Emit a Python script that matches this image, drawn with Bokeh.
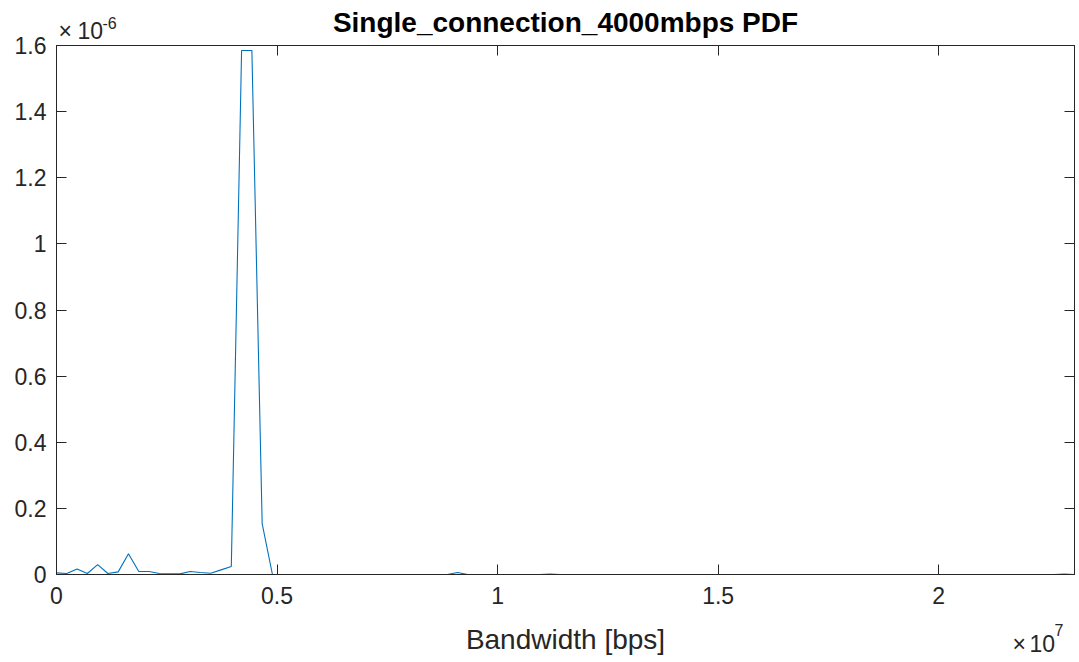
import numpy as np
from bokeh.plotting import figure
from bokeh.models import (LinearAxis, FixedTicker, CustomJSTickFormatter,
                          Range1d, ColumnDataSource)
from bokeh.core.properties import value
from bokeh.embed import file_html
from bokeh.resources import INLINE

# Histogram-based PDF estimate of measured bandwidth (100 bins)
X_MAX = 2.308e7          # bps, upper edge of the bin grid
N_BINS = 100
Y_SCALE = 1e-6           # PDF values below are in units of 1e-6

pdf_e6 = [
    0.005, 0.003, 0.017, 0.003, 0.030, 0.003, 0.008, 0.063, 0.009, 0.009,
    0.003, 0.002, 0.002, 0.009, 0.006, 0.004, 0.014, 0.024, 1.585, 1.585,
    0.154, 0.000, 0.000, 0.000, 0.000, 0.000, 0.000, 0.000, 0.000, 0.000,
    0.000, 0.000, 0.000, 0.000, 0.000, 0.000, 0.000, 0.000, 0.000, 0.006,
    0.000, 0.000, 0.000, 0.000, 0.000, 0.000, 0.000, 0.000, 0.001, 0.000,
    0.000, 0.000, 0.000, 0.000, 0.000, 0.000, 0.000, 0.000, 0.000, 0.000,
    0.000, 0.000, 0.000, 0.000, 0.000, 0.000, 0.000, 0.000, 0.000, 0.000,
    0.000, 0.000, 0.000, 0.000, 0.000, 0.000, 0.000, 0.000, 0.000, 0.000,
    0.000, 0.000, 0.000, 0.000, 0.000, 0.000, 0.000, 0.000, 0.000, 0.000,
    0.000, 0.000, 0.000, 0.000, 0.000, 0.000, 0.000, 0.000, 0.001, 0.000,
]

x_ticks = [0, 0.5e7, 1.0e7, 1.5e7, 2.0e7]
y_ticks = [0, 0.2e-6, 0.4e-6, 0.6e-6, 0.8e-6, 1.0e-6, 1.2e-6, 1.4e-6, 1.6e-6]

bandwidth = np.linspace(0, X_MAX, N_BINS)
pdf = np.array(pdf_e6) * Y_SCALE
src = ColumnDataSource(dict(x=bandwidth, y=pdf))

FONT = "Liberation Sans"
AX_COLOR = "#262626"
TICK_FS = "23px"
LABEL_FS = "28px"

p = figure(width=1079, height=662,
           x_range=Range1d(0, X_MAX), y_range=Range1d(0, 1.6e-6),
           output_backend="svg", toolbar_location=None,
           min_border_left=56, min_border_right=5,
           min_border_top=45, min_border_bottom=88,
           background_fill_color="white", border_fill_color="white")

p.line("x", "y", source=src, line_color="#0072BD", line_width=1.1)

p.xgrid.visible = False
p.ygrid.visible = False
p.outline_line_color = AX_COLOR
p.outline_line_width = 1

p.title.text = "Single_connection_4000mbps PDF"
p.title.text_font = FONT
p.title.text_font_size = LABEL_FS
p.title.text_font_style = "bold"
p.title.text_color = "black"
p.title.align = "center"
p.title.vertical_align = "top"
p.title.text_line_height = 0.8
p.title.standoff = 12

xfmt = CustomJSTickFormatter(code="return String(+(tick/1e7).toFixed(3));")
yfmt = CustomJSTickFormatter(code="return String(+(tick/1e-6).toFixed(3));")


def style_axis(ax, ticks, show_labels=True):
    ax.ticker = FixedTicker(ticks=ticks)
    ax.major_tick_in = 10
    ax.major_tick_out = 0
    ax.minor_tick_line_color = None
    ax.axis_line_color = AX_COLOR
    ax.major_tick_line_color = AX_COLOR
    ax.major_label_text_font = FONT
    ax.major_label_text_color = AX_COLOR
    if show_labels:
        ax.major_label_text_font_size = TICK_FS
    else:
        ax.major_label_text_font_size = "0px"
        ax.major_label_standoff = 0
        ax.axis_label_standoff = 0


style_axis(p.xaxis[0], x_ticks)
p.xaxis[0].formatter = xfmt
p.xaxis[0].major_label_standoff = 12
p.xaxis[0].axis_label = "Bandwidth [bps]"
p.xaxis[0].axis_label_text_font = FONT
p.xaxis[0].axis_label_text_font_size = LABEL_FS
p.xaxis[0].axis_label_text_font_style = "normal"
p.xaxis[0].axis_label_text_color = AX_COLOR
p.xaxis[0].axis_label_standoff = 17

style_axis(p.yaxis[0], y_ticks)
p.yaxis[0].formatter = yfmt
p.yaxis[0].major_label_standoff = 10

# mirrored ticks on the top and right edges of the box
top_ax = LinearAxis()
style_axis(top_ax, x_ticks, show_labels=False)
p.add_layout(top_ax, "above")
right_ax = LinearAxis()
style_axis(right_ax, y_ticks, show_labels=False)
p.add_layout(right_ax, "right")

# axis exponent markers, anchored at the box corners
exp_src = ColumnDataSource(dict(
    x=[0, 0, 0, X_MAX, X_MAX, X_MAX],
    y=[1.6e-6, 1.6e-6, 1.6e-6, 0, 0, 0],
    text=["\u00d7", "10", "-6", "\u00d7", "10", "7"],
    dx=[2, 21, 46, -62, -45, -20],
    dy=[-15, -15, -23, 69, 69, 55],
    size=[TICK_FS, TICK_FS, "16px", TICK_FS, TICK_FS, "16px"],
))
p.text("x", "y", text="text", source=exp_src, x_offset="dx", y_offset="dy",
       text_font=value(FONT), text_font_size="size", text_color=AX_COLOR,
       text_align="left", text_baseline="alphabetic", level="overlay")

open("out.html", "w").write(file_html(p, INLINE))
